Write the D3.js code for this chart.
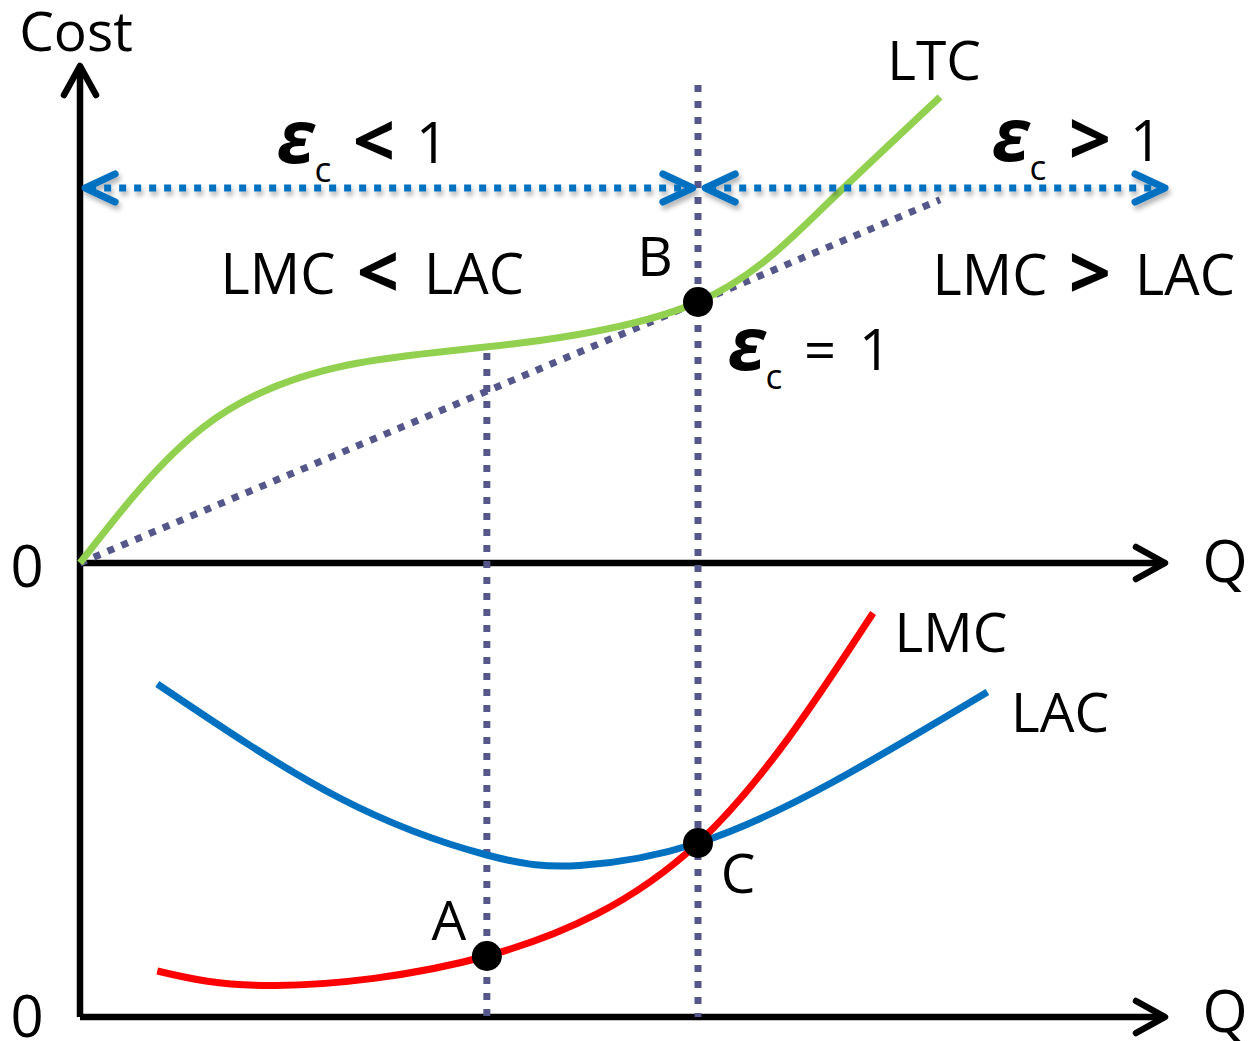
<!DOCTYPE html>
<html>
<head>
<meta charset="utf-8">
<script src="https://cdn.jsdelivr.net/npm/d3@7"></script>
<style>
  html, body { margin: 0; padding: 0; background: #fff; }
  svg { display: block; }
  text { font-family: "Open Sans", "Noto Sans", sans-serif; fill: #000; }
</style>
</head>
<body>
<script>
// Long-run total cost (upper panel), output Q vs cost
const ltc = [[0,0],[1.2,27.2],[2.6,39.6],[4.2,43.8],[6,52.2],[7.2,70.8],[8.35,93.2]];
// Average-cost ray from the origin, tangent to LTC at B
const rayQ = [0, 8.35];
const raySlope = 8.7;
// Long-run average and marginal cost (lower panel)
const lac = [[0.75,66.6],[2.52,43.8],[3.95,32.4],[4.85,30.3],[6,34.8],[7.31,47],[8.81,65]];
const lmc = [[0.75,9.2],[1.9,6.3],[3.95,12.2],[6,34.8],[7.7,80.8]];
// Marked outputs
const qA = 3.95, qB = 6;
const points = [
  {name: "B", panel: "top", q: 6, c: 52.2},
  {name: "A", panel: "bot", q: 3.95, c: 12.2},
  {name: "C", panel: "bot", q: 6, c: 34.8}
];
const arrowLevel = 75;   // height of the elasticity range arrows (upper panel units)
const qMax = 10.534;

const W = 1249, H = 1041;
const svg = d3.select("body").append("svg").attr("width", W).attr("height", H);

const x = d3.scaleLinear().domain([0, qMax]).range([80, 1165]);
const yTop = d3.scaleLinear().domain([0, 100]).range([563, 63]);
const yBot = d3.scaleLinear().domain([0, 100]).range([1017, 517]);

const defs = svg.append("defs");
const sh = defs.append("filter").attr("id", "shadow")
  .attr("x", "-10%").attr("y", "-100%").attr("width", "120%").attr("height", "400%");
sh.append("feDropShadow").attr("dx", 2).attr("dy", 4).attr("stdDeviation", 2.5)
  .attr("flood-color", "#000").attr("flood-opacity", 0.3);

const PURPLE = "#55578b", BLUE = "#0070c0", GREEN = "#92d050", RED = "#ff0000";

const line = (ys) => d3.line().x(d => x(d[0])).y(d => ys(d[1])).curve(d3.curveNatural);

// Axes
const axes = svg.append("g").attr("stroke", "#000").attr("stroke-width", 6.5)
  .attr("fill", "none").attr("stroke-linecap", "round").attr("stroke-linejoin", "round");
axes.append("line").attr("x1", x(0)).attr("x2", x(0)).attr("y1", yBot(0)).attr("y2", yTop(100) + 3)
  .attr("stroke-linecap", "butt");
axes.append("path").attr("d", `M${x(0)-16},${yTop(100)+32} L${x(0)},${yTop(100)+3} L${x(0)+16},${yTop(100)+32}`);
[yTop, yBot].forEach(ys => {
  axes.append("line").attr("x1", x(0)).attr("x2", x(qMax)).attr("y1", ys(0)).attr("y2", ys(0))
    .attr("stroke-linecap", "butt");
  axes.append("path").attr("d", `M${x(qMax)-29},${ys(0)-16} L${x(qMax)},${ys(0)} L${x(qMax)-29},${ys(0)+16}`);
});

// Ray from origin
svg.append("line")
  .attr("x1", x(rayQ[0])).attr("y1", yTop(rayQ[0] * raySlope))
  .attr("x2", x(rayQ[1])).attr("y2", yTop(rayQ[1] * raySlope))
  .attr("stroke", PURPLE).attr("stroke-width", 7).attr("stroke-dasharray", "7,8");

// Vertical guides at A and B/C
svg.append("line").attr("x1", x(qA)).attr("x2", x(qA))
  .attr("y1", yTop(42)).attr("y2", yBot(0))
  .attr("stroke", PURPLE).attr("stroke-width", 7).attr("stroke-dasharray", "7,9");
svg.append("line").attr("x1", x(qB)).attr("x2", x(qB))
  .attr("y1", yTop(95.6)).attr("y2", yBot(0))
  .attr("stroke", PURPLE).attr("stroke-width", 7).attr("stroke-dasharray", "7,9");

// Cost curves
svg.append("path").datum(ltc).attr("d", line(yTop)).attr("fill", "none")
  .attr("stroke", GREEN).attr("stroke-width", 7);
svg.append("path").datum(lac).attr("d", line(yBot)).attr("fill", "none")
  .attr("stroke", BLUE).attr("stroke-width", 7);
svg.append("path").datum(lmc).attr("d", line(yBot)).attr("fill", "none")
  .attr("stroke", RED).attr("stroke-width", 7);

// Elasticity range arrows
const arrows = svg.append("g").attr("filter", "url(#shadow)");
function rangeArrow(q1, q2) {
  const x1 = x(q1), x2 = x(q2), yy = yTop(arrowLevel);
  arrows.append("line").attr("x1", x1 + 4).attr("x2", x2 - 4).attr("y1", yy).attr("y2", yy)
    .attr("stroke", BLUE).attr("stroke-width", 7).attr("stroke-dasharray", "7,8");
  const g = arrows.append("g").attr("stroke", BLUE).attr("stroke-width", 7).attr("fill", "none")
    .attr("stroke-linecap", "round").attr("stroke-linejoin", "round");
  g.append("path").attr("d", `M${x1+30},${yy-14} L${x1},${yy} L${x1+30},${yy+14}`);
  g.append("path").attr("d", `M${x2-30},${yy-14} L${x2},${yy} L${x2-30},${yy+14}`);
}
rangeArrow(0.05, 5.95);
rangeArrow(6.07, qMax);

// Points
points.forEach(p => {
  svg.append("circle").attr("cx", x(p.q)).attr("cy", (p.panel === "top" ? yTop : yBot)(p.c))
    .attr("r", 15).attr("fill", "#000");
});

// Labels
function label(txt, xx, yy, size, opts) {
  const o = opts || {};
  return svg.append("text").attr("x", xx).attr("y", yy).attr("font-size", size)
    .attr("text-anchor", o.anchor || "middle")
    .attr("font-weight", o.bold ? "bold" : null)
    .attr("font-style", o.italic ? "italic" : null)
    .text(txt);
}
label("Cost", 76, 51, 55);
label("LTC", 934, 80, 55);
label("B", 655, 276, 55);
label("A", 449, 940, 55);
label("C", 738, 893, 55);
label("LMC", 951, 652, 55);
label("LAC", 1060, 732, 55);
label("0", 27, 587, 58);
label("0", 27, 1037, 58);
label("Q", 1225, 582, 58);
label("Q", 1225, 1032, 58);

// Cost comparison statements
label("LMC", 278, 294, 56);
label("<", 378, 298, 74, {bold: true});
label("LAC", 474, 294, 56);
label("LMC", 990, 295, 56);
label(">", 1090, 299, 74, {bold: true});
label("LAC", 1185, 295, 56);

// Cost elasticity statements
function elasticity(cx, yy, sym, symBold, symX, oneX) {
  label("ε", cx, yy, 74, {bold: true, italic: true});
  label("c", cx + 27, yy + 19, 35);
  label(sym, symX, yy + (symBold ? 4 : 0), symBold ? 74 : 56, {bold: symBold});
  label("1", oneX, yy, 56);
}
elasticity(296, 163, "<", true, 374, 432);
elasticity(1011, 161, ">", true, 1090, 1146);
elasticity(747, 370, "=", false, 820, 875);
</script>
</body>
</html>
